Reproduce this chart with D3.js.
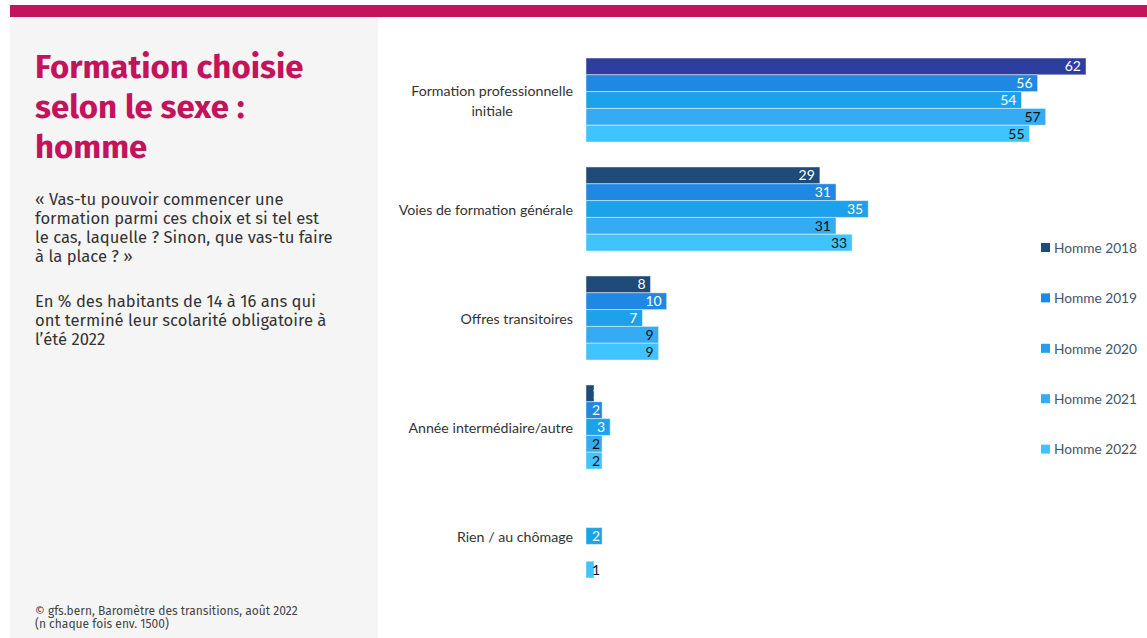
<!DOCTYPE html>
<html lang="fr">
<head>
<meta charset="utf-8">
<title>Formation choisie selon le sexe : homme</title>
<script src="https://cdn.jsdelivr.net/npm/d3@7"></script>
<style>
  html, body { margin: 0; padding: 0; background: #ffffff; }
  svg { display: block; }
</style>
</head>
<body>
<svg id="chart" width="1147" height="638"></svg>
<script>
// Categories (bar groups) and the share per survey year, in %
const categories = [
  "Formation professionnelle\ninitiale",
  "Voies de formation générale",
  "Offres transitoires",
  "Année intermédiaire/autre",
  "Rien / au chômage"
];
const seriesNames = ["Homme 2018", "Homme 2019", "Homme 2020", "Homme 2021", "Homme 2022"];
const homme2018 = [62, 29, 8, 1, null];
const homme2019 = [56, 31, 10, 2, null];
const homme2020 = [54, 35, 7, 3, 2];
const homme2021 = [57, 31, 9, 2, null];
const homme2022 = [55, 33, 9, 2, 1];
const seriesValues = [homme2018, homme2019, homme2020, homme2021, homme2022];

// Presentation
const seriesColors = ["#1F4B78", "#1E88E3", "#1DA1EA", "#35ABF3", "#40C4FF"];
const highlightColor = "#2E3E9F";          // first bar of the chart
const labelColors = ["#ffffff", "#ffffff", "#ffffff", "#111111", "#111111"];

const titleLines = ["Formation choisie", "selon le sexe :", "homme"];
const questionLines = [
  "« Vas-tu pouvoir commencer une",
  "formation parmi ces choix et si tel est",
  "le cas, laquelle ? Sinon, que vas-tu faire",
  "à la place ? »"
];
const baseLines = [
  "En % des habitants de 14 à 16 ans qui",
  "ont terminé leur scolarité obligatoire à",
  "l’été 2022"
];
const sourceLines = [
  "©  gfs.bern, Baromètre des transitions, août 2022",
  "(n chaque fois env. 1500)"
];

const svg = d3.select("#chart");
const W = 1147, H = 638;
const chartFont = "Lato, 'Open Sans', sans-serif";
const panelFont = "'Fira Sans', 'Open Sans', 'Noto Sans', sans-serif";

// Frame: magenta band at the top and grey side panel
svg.append("rect").attr("x", 10).attr("y", 5).attr("width", W - 10).attr("height", 12).attr("fill", "#C2135B");
svg.append("rect").attr("x", 10).attr("y", 17).attr("width", 368).attr("height", H - 17).attr("fill", "#F5F5F5");

// Side panel texts
const title = svg.append("text")
  .attr("font-family", panelFont).attr("font-weight", 700)
  .attr("font-size", 33).attr("fill", "#C2135B");
titleLines.forEach((t, i) => {
  title.append("tspan").attr("x", 35).attr("y", 78 + i * 40).text(t);
});

function paragraph(lines, y0, lh, size, color) {
  const t = svg.append("text")
    .attr("font-family", panelFont).attr("font-size", size).attr("fill", color);
  lines.forEach((l, i) => t.append("tspan").attr("x", 35).attr("y", y0 + i * lh).text(l));
}
paragraph(questionLines, 205, 19, 16.6, "#333333");
paragraph(baseLines, 307, 19, 16.6, "#333333");
paragraph(sourceLines, 615, 13, 12, "#444444");

// Scales
const x = d3.scaleLinear().domain([0, 62]).range([586, 1086]);
const yGroup = d3.scaleBand().domain(d3.range(categories.length)).range([58, 578]).paddingInner(0.229).paddingOuter(0);
const ySeries = d3.scaleBand().domain(d3.range(seriesNames.length)).range([0, yGroup.bandwidth()]);

// Flattened bar records
const bars = [];
categories.forEach((c, ci) => {
  seriesValues.forEach((vals, si) => {
    if (vals[ci] != null) bars.push({ ci, si, v: vals[ci] });
  });
});

const gBars = svg.append("g");
gBars.selectAll("rect").data(bars).join("rect")
  .attr("x", x(0))
  .attr("y", d => yGroup(d.ci) + ySeries(d.si))
  .attr("width", d => x(d.v) - x(0))
  .attr("height", ySeries.bandwidth())
  .attr("fill", d => (d.ci === 0 && d.si === 0) ? highlightColor : seriesColors[d.si])
  .attr("stroke", "rgba(255,255,255,0.45)")
  .attr("stroke-width", 1);

// Value labels, right-aligned at the bar end
gBars.selectAll("text").data(bars).join("text")
  .attr("x", d => Math.max(x(d.v) - 5, x(0) + 14))
  .attr("y", d => yGroup(d.ci) + ySeries(d.si) + ySeries.bandwidth() / 2)
  .attr("dy", "0.36em")
  .attr("text-anchor", "end")
  .attr("font-family", chartFont).attr("font-size", 14)
  .attr("fill", d => labelColors[d.si])
  .text(d => d.v);

// Category labels, multi-line blocks centred on their widest line
const gCat = svg.append("g").attr("font-family", chartFont).attr("font-size", 14.2).attr("fill", "#333333");
categories.forEach((c, ci) => {
  const lines = c.split("\n");
  const cy = yGroup(ci) + yGroup.bandwidth() / 2;
  const t = gCat.append("text").attr("text-anchor", "middle");
  lines.forEach((l, li) => {
    t.append("tspan")
      .attr("y", cy + 1 + (li - (lines.length - 1) / 2) * 20)
      .attr("dy", "0.35em")
      .text(l);
  });
  let wmax = 0;
  t.selectAll("tspan").each(function () { wmax = Math.max(wmax, this.getComputedTextLength()); });
  t.selectAll("tspan").attr("x", 573 - wmax / 2);
});

// Legend
const legend = svg.append("g").attr("font-family", chartFont).attr("font-size", 13.7);
seriesNames.forEach((n, i) => {
  const ly = 248 + i * 50.4;
  legend.append("rect").attr("x", 1041).attr("y", ly - 5).attr("width", 9).attr("height", 9)
    .attr("fill", seriesColors[i]);
  legend.append("text").attr("x", 1054).attr("y", ly).attr("dy", "0.35em")
    .attr("fill", "#44546A").text(n);
});
</script>
</body>
</html>
